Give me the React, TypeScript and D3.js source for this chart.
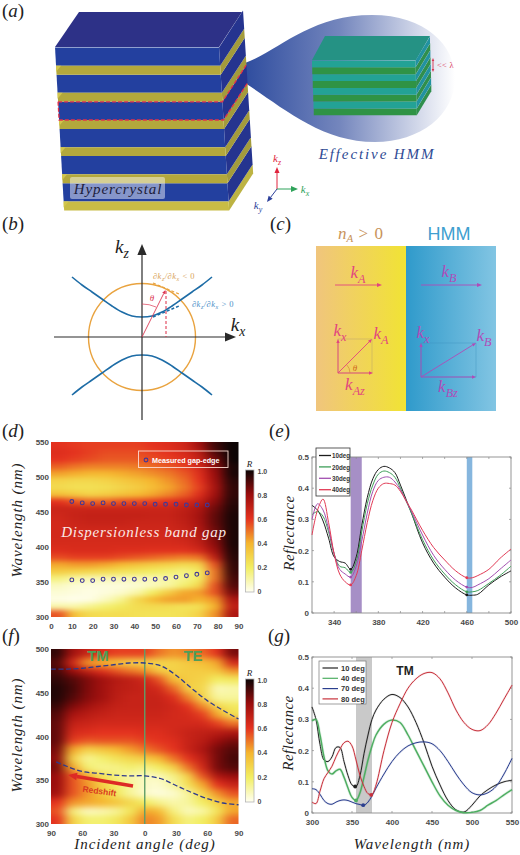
import { useEffect, useRef } from "react";
import * as d3 from "d3";

// (d) R map, rows from long to short wavelength
const dWave = [545,535,525,515,505,495,485,475,465,455,445,435,425,415,405,395,385,375,365,355,345,335,325,315,305];
const dAngle = [4,11,19,26,34,41,49,56,64,71,79,86];
const dMap = [
  [.6,.59,.58,.58,.58,.58,.6,.62,.66,.78,.93,1],
  [.62,.6,.58,.56,.56,.56,.58,.6,.64,.72,.9,1],
  [.6,.58,.56,.54,.54,.54,.56,.58,.61,.68,.85,1],
  [.53,.5,.48,.48,.48,.49,.51,.54,.58,.65,.82,.98],
  [.43,.41,.39,.39,.41,.43,.46,.49,.54,.62,.8,.98],
  [.3,.28,.28,.3,.33,.36,.4,.45,.51,.6,.78,.96],
  [.27,.25,.25,.26,.29,.32,.37,.42,.49,.58,.76,.95],
  [.36,.33,.3,.32,.35,.38,.42,.47,.53,.62,.78,.95],
  [.6,.55,.52,.52,.55,.56,.58,.6,.64,.69,.82,.96],
  [.67,.67,.67,.67,.67,.67,.67,.67,.7,.75,.86,.97],
  [.66,.68,.69,.69,.69,.69,.68,.68,.71,.77,.88,.98],
  [.65,.67,.68,.68,.68,.67,.67,.67,.7,.76,.88,.98],
  [.65,.66,.66,.66,.66,.66,.66,.66,.68,.74,.86,.98],
  [.65,.65,.65,.65,.65,.65,.65,.65,.67,.72,.84,.98],
  [.64,.64,.64,.64,.64,.64,.64,.64,.65,.7,.82,.98],
  [.62,.63,.63,.63,.62,.62,.61,.61,.61,.65,.78,.97],
  [.56,.58,.58,.58,.56,.54,.52,.5,.48,.5,.7,.96],
  [.42,.44,.44,.42,.38,.35,.32,.3,.27,.29,.55,.95],
  [.32,.3,.28,.26,.24,.22,.2,.18,.16,.2,.5,.94],
  [.16,.11,.09,.09,.09,.09,.09,.11,.14,.2,.5,.92],
  [.07,.04,.03,.03,.03,.04,.07,.11,.18,.28,.55,.9],
  [.04,.03,.02,.03,.05,.1,.2,.32,.42,.44,.55,.85],
  [.02,.01,.02,.07,.14,.28,.38,.43,.44,.4,.45,.75],
  [.1,.1,.14,.18,.22,.26,.27,.26,.24,.25,.4,.7],
  [.55,.35,.27,.26,.26,.25,.24,.24,.25,.3,.45,.75],
];
const gapAngle = [10,15,20,25,30,35,40,45,50,55,60,65,70,75];
const gapUpper = [465,463,462,463,462,462,462,462,461,461,461,460,460,460];
const gapLower = [353,352,352,354,354,354,354,354,354,355,357,359,361,363];

// (e) reflectance
const eWave = [320,325,330,335,340,345,350,355,360,365,370,375,380,385,390,395,400,405,410,420,430,440,450,460,465,470,480,490,500];
const e10 = [.345,.33,.295,.24,.18,.165,.16,.14,.18,.28,.37,.43,.46,.47,.465,.45,.41,.365,.32,.225,.16,.115,.08,.058,.057,.06,.09,.115,.135];
const e20 = [.315,.325,.31,.26,.19,.15,.145,.13,.165,.26,.35,.41,.445,.455,.45,.435,.4,.36,.32,.235,.17,.125,.09,.068,.068,.072,.095,.12,.15];
const e30 = [.3,.35,.33,.27,.19,.14,.125,.115,.15,.23,.32,.39,.425,.435,.435,.42,.395,.36,.325,.25,.185,.14,.105,.083,.082,.09,.11,.14,.17];
const e40 = [.25,.33,.365,.29,.19,.125,.1,.09,.12,.2,.29,.36,.4,.415,.415,.41,.39,.36,.33,.265,.21,.17,.135,.113,.113,.12,.14,.175,.205];
const eNames = ["10deg","20deg","30deg","40deg"];
const eColors = ["#1c1c1c","#3f9f5a","#a24fb0","#e23a55"];

// (f) R map, TM side then TE side
const fWave = [495,485,475,465,455,445,435,425,415,405,395,385,375,365,355,345,335,325,315,305];
const fAngle = [-83,-69,-55,-42,-28,-14,0,14,28,42,55,69,83];
const fMap = [
  [.95,.78,.68,.62,.58,.58,.58,.5,.45,.48,.52,.6,.85],
  [.9,.65,.45,.4,.35,.3,.3,.28,.3,.33,.36,.42,.65],
  [.92,.8,.7,.62,.55,.5,.45,.32,.3,.32,.32,.34,.45],
  [.95,.9,.84,.78,.73,.7,.66,.55,.36,.32,.3,.2,.22],
  [.97,.92,.84,.78,.72,.7,.68,.65,.52,.3,.28,.08,.1],
  [.97,.9,.83,.78,.71,.68,.68,.68,.62,.48,.28,.12,.12],
  [.94,.84,.78,.73,.69,.68,.68,.68,.66,.6,.46,.28,.22],
  [.9,.76,.72,.69,.67,.67,.67,.67,.65,.64,.58,.42,.25],
  [.88,.69,.67,.65,.65,.65,.65,.65,.65,.65,.65,.58,.5],
  [.88,.64,.62,.6,.6,.6,.62,.62,.65,.68,.7,.72,.75],
  [.88,.58,.54,.55,.55,.55,.58,.6,.62,.68,.72,.8,.85],
  [.85,.42,.3,.34,.38,.44,.5,.55,.6,.68,.75,.85,.9],
  [.82,.3,.13,.18,.24,.28,.32,.38,.5,.6,.7,.85,.92],
  [.85,.42,.18,.14,.15,.18,.15,.2,.3,.5,.65,.85,.9],
  [.8,.55,.42,.25,.16,.1,.07,.08,.15,.3,.55,.75,.8],
  [.8,.55,.45,.32,.2,.12,.06,.05,.12,.25,.42,.6,.68],
  [.78,.55,.45,.35,.22,.12,.05,.03,.05,.12,.28,.45,.55],
  [.6,.45,.42,.4,.35,.28,.2,.14,.1,.12,.2,.3,.42],
  [.55,.16,.06,.08,.12,.22,.42,.38,.16,.07,.1,.22,.42],
  [.6,.3,.18,.18,.22,.33,.48,.44,.26,.16,.2,.32,.52],
];
const edgeAngle = [-90,-75,-60,-45,-30,-15,0,15,30,45,60,75,90];
const edgeUpper = [477,477,478,480,482,484,484,481,470,455,441,430,420];
const edgeLowerAngle = [-85,-75,-60,-45,-30,-15,0,15,30,45,60,75,90];
const edgeLower = [371,366,360,358,356,355,355,352,344,336,329,324,322];
const fTicks = [-90,-60,-30,0,30,60,90];

// (g) reflectance
const gWave = [300,305,310,315,320,325,330,335,340,345,350,355,360,365,370,375,380,390,400,410,420,430,440,450,460,470,480,490,500,510,520,530,540,550];
const g10 = [.34,.3,.22,.17,.165,.18,.21,.21,.165,.12,.09,.085,.12,.19,.25,.3,.33,.365,.38,.37,.34,.29,.225,.15,.09,.04,.01,.003,.025,.055,.075,.09,.1,.105];
const g40 = [.295,.3,.25,.18,.135,.125,.135,.14,.115,.08,.05,.04,.065,.115,.17,.215,.25,.285,.298,.29,.25,.2,.15,.1,.055,.025,.008,.001,.002,.008,.025,.04,.058,.075];
const g70 = [.078,.075,.06,.04,.03,.028,.035,.04,.042,.04,.035,.03,.027,.025,.035,.055,.08,.125,.165,.195,.215,.225,.228,.222,.2,.165,.125,.09,.065,.058,.065,.085,.125,.175];
const g80 = [.035,.03,.07,.11,.13,.15,.18,.205,.225,.23,.215,.17,.12,.085,.062,.06,.09,.2,.29,.35,.4,.43,.447,.45,.43,.385,.33,.29,.268,.264,.283,.32,.365,.41];
const gNames = ["10 deg","40 deg","70 deg","80 deg"];
const gColors = ["#222222","#4fae62","#2b3f8f","#c8323c"];
const gDipWave = [354,355,364,374];
const gDipValue = [.085,.04,.025,.058];

// (b) iso-frequency contours, offsets from the axis origin
const hypX = [-70,-60,-50,-40,-30,-20,-10,0,10,20,30,40,50,60,70];
const hypUp = [60,52,45,38,31,25,21,20,21,25,31,38,45,52,60];
const hypDown = [58,50,43,36,29,23,19,18,19,23,29,36,43,50,58];

const rColors = ["#fffff2","#f2ee62","#f5b52e","#e4321f","#9a0d0d","#0c0505"];
const rStops = [0,.2,.4,.6,.8,1];
const rTicks = [0,.2,.4,.6,.8,1];

const serif = "'Liberation Serif', serif";
const sans = "'Liberation Sans', Arial, sans-serif";
const tickInk = "#4a4a4a";

type Sel = d3.Selection<any, any, any, any>;

const App = () => {
  const ref = useRef<SVGSVGElement>(null);

  useEffect(() => {
    if (!ref.current) return;
    const svg = d3.select(ref.current);
    svg.selectAll("*").remove();
    const defs = svg.append("defs");

    const color = d3.scaleLinear<string>().domain(rStops).range(rColors).clamp(true);

    const txt = (g: Sel, x: number, y: number, s: string, size: number, fill = "#222", opts: any = {}) =>
      g
        .append("text")
        .attr("x", x)
        .attr("y", y)
        .attr("font-family", opts.family ?? serif)
        .attr("font-style", opts.italic === false ? "normal" : "italic")
        .attr("font-weight", opts.weight ?? "normal")
        .attr("font-size", size)
        .attr("fill", fill)
        .attr("text-anchor", opts.anchor ?? "middle")
        .attr("letter-spacing", opts.spacing ?? 0)
        .attr("transform", opts.rotate ? `rotate(${opts.rotate},${x},${y})` : null)
        .text(s);

    // k with a subscript
    const kLabel = (g: Sel, x: number, y: number, sub: string, size: number, fill: string) => {
      const t = txt(g, x, y, "k", size, fill);
      t.append("tspan").attr("dy", size * 0.28).attr("font-size", size * 0.72).text(sub);
      return t;
    };

    const arrow = (g: Sel, x1: number, y1: number, x2: number, y2: number, stroke: string, w: number, head: number) => {
      const a = Math.atan2(y2 - y1, x2 - x1);
      const bx = x2 - head * Math.cos(a);
      const by = y2 - head * Math.sin(a);
      g.append("line").attr("x1", x1).attr("y1", y1).attr("x2", bx).attr("y2", by)
        .attr("stroke", stroke).attr("stroke-width", w);
      const hw = head * 0.42;
      g.append("path")
        .attr("d", `M${x2},${y2}L${bx - hw * Math.sin(a)},${by + hw * Math.cos(a)}L${bx + hw * Math.sin(a)},${by - hw * Math.cos(a)}Z`)
        .attr("fill", stroke);
    };

    const panelLabel = (x: number, y: number, s: string) => {
      const t = svg.append("text").attr("x", x).attr("y", y).attr("font-family", serif).attr("font-size", 19).attr("fill", "#222");
      t.append("tspan").text("(");
      t.append("tspan").attr("font-style", "italic").text(s);
      t.append("tspan").text(")");
    };
    panelLabel(2, 17, "a");
    panelLabel(2, 230, "b");
    panelLabel(270, 230, "c");
    panelLabel(2, 437, "d");
    panelLabel(269, 437, "e");
    panelLabel(2, 642, "f");
    panelLabel(268, 642, "g");

    // ---- (a) stack
    const a = svg.append("g");
    const lens = defs.append("linearGradient").attr("id", "lens");
    lens.append("stop").attr("offset", 0).attr("stop-color", "#2f4d9f");
    lens.append("stop").attr("offset", 0.45).attr("stop-color", "#7486bd");
    lens.append("stop").attr("offset", 1).attr("stop-color", "#ffffff");
    a.append("path")
      .attr("d", "M245,63C280,50 310,15 372,15C425,15 455,45 455,78C455,115 420,142 375,142C320,142 280,105 245,83Z")
      .attr("fill", "url(#lens)");

    const xl = d3.scaleLinear().domain([47, 208]).range([55, 64]);
    const xr = d3.scaleLinear().domain([47, 208]).range([219, 229]);
    const dx = 24, dy = -37;
    const poly = (g: Sel, pts: number[][], fill: string) =>
      g.append("path").attr("d", "M" + pts.map((p) => p.join(",")).join("L") + "Z").attr("fill", fill);
    // top face
    poly(a, [[55, 47], [79, 12], [242, 12], [219, 47]], "#2d3187");
    const periods = d3.range(6);
    [...periods].reverse().forEach((i) => {
      const y0 = 47.5 + i * 27.15;
      const y1 = y0 + 18.2;
      const y2 = y0 + 27.15;
      poly(a, [[xr(y1), y1], [xr(y2), y2], [xr(y2) + dx, y2 + dy], [xr(y1) + dx, y1 + dy]], i === 5 ? "#bdb343" : "#a39b3c");
      poly(a, [[xr(y0), y0], [xr(y1), y1], [xr(y1) + dx, y1 + dy], [xr(y0) + dx, y0 + dy]], "#25348f");
      poly(a, [[xl(y0), y0], [xr(y0), y0], [xr(y1), y1], [xl(y1), y1]], "#23409f");
      poly(a, [[xl(y1), y1], [xr(y1), y1], [xr(y2), y2], [xl(y2), y2]], i === 5 ? "#c8bc45" : "#b3a83c");
      poly(a, [[xl(y1), y1], [xl(y1) + 5, y1], [xl(y1), y1 + 6]], "#d2c64c");
    });
    // dashed slab
    const sy0 = 47.5 + 2 * 27.15, sy1 = sy0 + 18.2;
    a.append("path")
      .attr("d", `M${xl(sy0)},${sy0}L${xr(sy0)},${sy0}L${xr(sy0) + dx},${sy0 + dy}M${xl(sy0)},${sy0}L${xl(sy1)},${sy1}L${xr(sy1)},${sy1}L${xr(sy1) + dx},${sy1 + dy}`)
      .attr("fill", "none").attr("stroke", "#e3304a").attr("stroke-width", 1.3).attr("stroke-dasharray", "4 2");
    a.append("rect").attr("x", 70).attr("y", 177).attr("width", 95).attr("height", 22).attr("rx", 2).attr("fill", "#fff").attr("opacity", 0.45);
    txt(a, 118, 194, "Hypercrystal", 15, "#1d1d3a", { spacing: 0.9 });

    // ---- effective HMM box
    const hm = svg.append("g");
    poly(hm, [[312, 60], [325, 36], [430, 36], [416, 60]], "#259284");
    d3.range(8).reverse().forEach((i) => {
      const y0 = 60.5 + i * 6.85, y1 = y0 + 6.85;
      const fx = 312 + (i / 8) * 2, rx = 415.5 + (i / 8) * 1.5;
      poly(hm, [[rx, y0], [rx + 14.5, y0 - 24], [rx + 14.5, y1 - 24], [rx, y1]], i % 2 ? "#2f8f4c" : "#2192a0");
      poly(hm, [[fx, y0], [rx, y0], [rx, y1], [fx, y1]], i % 2 ? "#2f9345" : "#23a295");
    });
    arrow(hm, 433, 66, 433, 58, "#d8334f", 0.9, 3);
    arrow(hm, 433, 66, 433, 72, "#d8334f", 0.9, 3);
    txt(hm, 437, 68, "<< λ", 8.5, "#dc3f5c", { anchor: "start", italic: false, spacing: 0.3 });
    txt(hm, 377, 159, "Effective HMM", 15, "#2e4a94", { spacing: 1.9 });

    // axes triad
    const tri = svg.append("g");
    arrow(tri, 277, 189, 277, 167, "#e0233c", 1, 6);
    arrow(tri, 277, 189, 298, 189, "#2fa35a", 1, 7);
    arrow(tri, 277, 189, 267, 202, "#2c3f9a", 1, 6);
    kLabel(tri, 277, 162, "z", 11, "#e0233c");
    kLabel(tri, 305, 193, "x", 11, "#2fa35a");
    kLabel(tri, 258, 209, "y", 11, "#2c3f9a");

    // ---- (b)
    const b = svg.append("g");
    const ox = 142, oy = 337;
    b.append("circle").attr("cx", ox).attr("cy", oy).attr("r", 53.5).attr("fill", "none").attr("stroke", "#e9a33f").attr("stroke-width", 1.4);
    const hypLine = d3.line<number>().x((d) => ox + d).curve(d3.curveCatmullRom);
    b.append("path").attr("d", hypLine.y((_, i) => oy - hypUp[i])(hypX)).attr("fill", "none").attr("stroke", "#1d6ca6").attr("stroke-width", 1.6);
    b.append("path").attr("d", hypLine.y((_, i) => oy + hypDown[i])(hypX)).attr("fill", "none").attr("stroke", "#1d6ca6").attr("stroke-width", 1.6);
    arrow(b, 54, oy, 236, oy, "#2a2a2a", 1.2, 11);
    arrow(b, ox, 420, ox, 244, "#2a2a2a", 1.2, 11);
    arrow(b, ox, oy, 165.5, 290, "#dc3a55", 0.9, 4);
    b.append("line").attr("x1", 166).attr("y1", 291).attr("x2", 166).attr("y2", oy).attr("stroke", "#dc2a45").attr("stroke-width", 1).attr("stroke-dasharray", "3 2");
    b.append("path").attr("d", `M${ox},${oy - 33}A33,33 0 0 1 ${ox + 14},${oy - 30}`).attr("fill", "none").attr("stroke", "#dc3a55").attr("stroke-width", 0.7);
    b.append("line").attr("x1", 153).attr("y1", 283).attr("x2", 179).attr("y2", 294).attr("stroke", "#e9a33f").attr("stroke-width", 1.2).attr("stroke-dasharray", "3 2");
    b.append("line").attr("x1", 153).attr("y1", 317).attr("x2", 179).attr("y2", 306).attr("stroke", "#1d6ca6").attr("stroke-width", 1.5).attr("stroke-dasharray", "3 2");
    txt(b, 152, 301, "θ", 9, "#dc3a55");
    const slopeLabel = (x: number, y: number, fill: string, rest: string) => {
      const t = txt(b, x, y, "∂k", 8.5, fill, { spacing: 0.5 });
      t.append("tspan").attr("dy", 1.5).attr("font-size", 6).text("z");
      t.append("tspan").attr("dy", -1.5).text("/∂k");
      t.append("tspan").attr("dy", 1.5).attr("font-size", 6).text("x");
      t.append("tspan").attr("dy", -1.5).attr("font-style", "normal").text(rest);
    };
    slopeLabel(174, 279, "#d9a45a", " < 0");
    slopeLabel(213, 307, "#4a8fc8", " > 0");
    kLabel(b, 122, 253, "z", 19, "#222");
    kLabel(b, 238, 331, "x", 19, "#222");

    // ---- (c)
    const c = svg.append("g");
    const gradL = defs.append("linearGradient").attr("id", "cLeft");
    gradL.append("stop").attr("offset", 0).attr("stop-color", "#f0c57d");
    gradL.append("stop").attr("offset", 1).attr("stop-color", "#f1e334");
    const gradR = defs.append("linearGradient").attr("id", "cRight");
    gradR.append("stop").attr("offset", 0).attr("stop-color", "#2f9acb");
    gradR.append("stop").attr("offset", 1).attr("stop-color", "#82c5e3");
    c.append("rect").attr("x", 316).attr("y", 246).attr("width", 90).attr("height", 165).attr("fill", "url(#cLeft)");
    c.append("rect").attr("x", 406).attr("y", 246).attr("width", 90).attr("height", 165).attr("fill", "url(#cRight)");
    const nA = txt(c, 361, 239, "n", 17, "#c8935a");
    nA.append("tspan").attr("dy", 3).attr("font-size", 11).text("A");
    nA.append("tspan").attr("dy", -3).attr("font-style", "normal").attr("letter-spacing", 1).text(" > 0");
    txt(c, 449, 240, "HMM", 18, "#3f9fd0", { italic: false, family: sans });
    const pink = "#e2457f", violet = "#b04bb8";
    arrow(c, 335, 285, 382, 285, pink, 0.9, 5);
    arrow(c, 421, 285, 482, 285, violet, 0.9, 5);
    kLabel(c, 358, 278, "A", 17, pink);
    kLabel(c, 449, 277, "B", 17, violet);
    c.append("rect").attr("x", 338).attr("y", 339).attr("width", 34).attr("height", 34).attr("fill", "none").attr("stroke", "#b09a70").attr("stroke-width", 0.4);
    c.append("rect").attr("x", 421).attr("y", 343).attr("width", 55).attr("height", 34).attr("fill", "none").attr("stroke", "#3d8fbd").attr("stroke-width", 0.4);
    arrow(c, 338, 373, 338, 339, pink, 0.9, 4);
    arrow(c, 338, 373, 373, 373, pink, 0.9, 4);
    arrow(c, 338, 373, 372, 339, pink, 0.9, 4);
    arrow(c, 421, 377, 421, 343, violet, 0.9, 4);
    arrow(c, 421, 377, 476, 377, violet, 0.9, 4);
    arrow(c, 421, 377, 476, 343, violet, 0.9, 4);
    c.append("path").attr("d", "M350,373A12,12 0 0 0 346.5,364.5").attr("fill", "none").attr("stroke", "#d68a3a").attr("stroke-width", 0.7);
    txt(c, 355, 371, "θ", 9, "#d06a20");
    kLabel(c, 340, 336, "x", 17, pink);
    kLabel(c, 381, 339, "A", 17, pink);
    kLabel(c, 355, 390, "Az", 17, pink);
    kLabel(c, 423, 338, "x", 17, violet);
    kLabel(c, 484, 341, "B", 17, violet);
    kLabel(c, 448, 392, "Bz", 17, violet);

    // ---- heat maps
    const heat = (id: string, xs: d3.ScaleBand<number>, ys: d3.ScaleBand<number>, matrix: number[][], box: number[], blur: string) => {
      const [x0, y0, x1, y1] = box;
      const clip = defs.append("clipPath").attr("id", "clip" + id);
      clip.append("rect").attr("x", x0).attr("y", y0).attr("width", x1 - x0).attr("height", y1 - y0);
      const filter = defs.append("filter").attr("id", "blur" + id).attr("filterUnits", "userSpaceOnUse")
        .attr("x", x0 - 40).attr("y", y0 - 40).attr("width", x1 - x0 + 80).attr("height", y1 - y0 + 80)
        .attr("color-interpolation-filters", "sRGB");
      filter.append("feGaussianBlur").attr("stdDeviation", blur);
      const outer = svg.append("g").attr("clip-path", `url(#clip${id})`);
      const inner = outer.append("g").attr("filter", `url(#blur${id})`).attr("shape-rendering", "crispEdges");
      const nc = xs.domain().length, nr = ys.domain().length;
      ys.domain().forEach((w, r) => {
        xs.domain().forEach((ang, k) => {
          // outermost cells run on past the frame so the blur keeps their colour at the edge
          const left = k === 0 ? 30 : 0;
          const right = k === nc - 1 ? 30 : 0;
          const top = r === 0 ? 30 : 0;
          const bot = r === nr - 1 ? 30 : 0;
          inner.append("rect")
            .attr("x", (xs(ang) as number) - left)
            .attr("y", (ys(w) as number) - top)
            .attr("width", xs.bandwidth() + left + right + 0.5)
            .attr("height", ys.bandwidth() + top + bot + 0.5)
            .attr("fill", color(matrix[r][k]));
        });
      });
    };

    const colorBar = (id: string, x: number, y0: number, y1: number) => {
      const grad = defs.append("linearGradient").attr("id", id).attr("x1", 0).attr("x2", 0).attr("y1", 1).attr("y2", 0);
      rStops.forEach((s) => grad.append("stop").attr("offset", s).attr("stop-color", color(s)));
      svg.append("rect").attr("x", x).attr("y", y0).attr("width", 8.5).attr("height", y1 - y0).attr("fill", `url(#${id})`).attr("stroke", "#b5b5b5").attr("stroke-width", 0.8);
      const scale = d3.scaleLinear().domain([0, 1]).range([y1 - 1, y0 + 1]);
      const ax = svg.append("g").attr("transform", `translate(${x + 10},0)`)
        .call(d3.axisRight(scale).tickValues(rTicks).tickSize(0).tickPadding(2).tickFormat((d) => (d === 0 ? "0" : d3.format(".1f")(d as number))));
      ax.select(".domain").remove();
      ax.selectAll("text").attr("font-family", sans).attr("font-size", 7).attr("font-weight", "bold").attr("fill", tickInk);
      txt(svg, x + 4, y0 - 3, "R", 9, "#222");
    };

    const styleTicks = (ax: Sel, size = 8) => {
      ax.select(".domain").remove();
      ax.selectAll("text").attr("font-family", sans).attr("font-size", size).attr("font-weight", "bold").attr("fill", tickInk);
    };

    // ---- (d)
    const dBox = [51, 442, 238.5, 617];
    const dx1 = d3.scaleBand<number>().domain(dAngle).range([dBox[0], dBox[2]]);
    const dy1 = d3.scaleBand<number>().domain(dWave).range([dBox[1], dBox[3]]);
    heat("d", dx1, dy1, dMap, dBox, "6 2.6");
    const dX = d3.scaleLinear().domain([0, 90]).range([dBox[0], dBox[2]]);
    const dY = d3.scaleLinear().domain([300, 550]).range([dBox[3], dBox[1]]);
    styleTicks(svg.append("g").attr("transform", `translate(0,${dBox[3]})`)
      .call(d3.axisBottom(dX).tickValues(d3.range(0, 91, 10)).tickSize(0).tickPadding(6)));
    styleTicks(svg.append("g").attr("transform", `translate(${dBox[0]},0)`)
      .call(d3.axisLeft(dY).tickValues(d3.range(300, 551, 50)).tickSize(0).tickPadding(2)));
    [gapUpper, gapLower].forEach((series) => {
      svg.append("g").selectAll("circle").data(series).join("circle")
        .attr("cx", (_, i) => dX(gapAngle[i]))
        .attr("cy", (d) => dY(d))
        .attr("r", 1.9).attr("fill", "none").attr("stroke", "#40389a").attr("stroke-width", 1.1);
    });
    txt(svg, 144, 537, "Dispersionless band gap", 15, "#fbe9e6", { spacing: 0.75 });
    svg.append("rect").attr("x", 138.5).attr("y", 451).attr("width", 89.5).attr("height", 16.5).attr("fill", "none").attr("stroke", "#fbd9cf").attr("stroke-width", 0.9);
    svg.append("circle").attr("cx", 146).attr("cy", 460).attr("r", 1.9).attr("fill", "none").attr("stroke", "#40389a").attr("stroke-width", 1.1);
    txt(svg, 152, 463, "Measured gap-edge", 7.2, "#fff", { italic: false, family: sans, weight: "bold", anchor: "start" });
    colorBar("barD", 245.5, 470, 592);
    txt(svg, 22, 520, "Wavelength (nm)", 15, "#222", { rotate: -90, spacing: 0.9 });

    // ---- line panels
    const lineFrame = (x: d3.ScaleLinear<number, number>, y: d3.ScaleLinear<number, number>, xMajor: number[], xMinor: number[], yMajor: number[]) => {
      const [x0, x1] = x.range();
      const [y1, y0] = y.range();
      const g = svg.append("g");
      const bottom = g.append("g").attr("transform", `translate(0,${y1})`)
        .call(d3.axisBottom(x).tickValues(xMajor).tickSize(0).tickPadding(6));
      styleTicks(bottom);
      const left = g.append("g").attr("transform", `translate(${x0},0)`)
        .call(d3.axisLeft(y).tickValues(yMajor).tickSize(0).tickPadding(3).tickFormat((d) => (d === 0 ? "0" : d3.format(".1f")(d as number))));
      styleTicks(left);
      const ink = "#8a8a8a";
      xMinor.forEach((v) => {
        g.append("line").attr("x1", x(v)).attr("x2", x(v)).attr("y1", y1).attr("y2", y1 - 2).attr("stroke", ink).attr("stroke-width", 0.7);
        g.append("line").attr("x1", x(v)).attr("x2", x(v)).attr("y1", y0).attr("y2", y0 + 2).attr("stroke", ink).attr("stroke-width", 0.7);
      });
      yMajor.forEach((v) => {
        g.append("line").attr("x1", x0).attr("x2", x0 + 2).attr("y1", y(v)).attr("y2", y(v)).attr("stroke", ink).attr("stroke-width", 0.7);
        g.append("line").attr("x1", x1).attr("x2", x1 - 2).attr("y1", y(v)).attr("y2", y(v)).attr("stroke", ink).attr("stroke-width", 0.7);
      });
      g.append("rect").attr("x", x0).attr("y", y0).attr("width", x1 - x0).attr("height", y1 - y0).attr("fill", "none").attr("stroke", ink).attr("stroke-width", 0.9);
    };

    // ---- (e)
    const eX = d3.scaleLinear().domain([320, 500]).range([312, 511]);
    const eY = d3.scaleLinear().domain([0, 0.5]).range([613, 457]);
    const band = (x: d3.ScaleLinear<number, number>, y: d3.ScaleLinear<number, number>, a0: number, a1: number, fill: string) =>
      svg.append("rect").attr("x", x(a0)).attr("width", x(a1) - x(a0)).attr("y", y(0.5)).attr("height", y(0) - y(0.5)).attr("fill", fill);
    band(eX, eY, 355, 365, "#a68fc6");
    band(eX, eY, 460, 465, "#86b6de");
    lineFrame(eX, eY, [340, 380, 420, 460, 500], d3.range(320, 501, 20), [0, .1, .2, .3, .4, .5]);
    const eLine = d3.line<number>().x((_, i) => eX(eWave[i])).y((d) => eY(d)).curve(d3.curveCatmullRom);
    [e10, e20, e30, e40].forEach((s, k) => {
      svg.append("path").attr("d", eLine(s)).attr("fill", "none").attr("stroke", eColors[k]).attr("stroke-width", 1);
      [7, 23].forEach((i) => {
        svg.append("circle").attr("cx", eX(eWave[i])).attr("cy", eY(s[i])).attr("r", 1.4).attr("fill", eColors[k]);
      });
    });
    const eLeg = svg.append("g");
    eLeg.append("rect").attr("x", 316).attr("y", 448).attr("width", 34).attr("height", 48).attr("fill", "#fff").attr("stroke", "#333").attr("stroke-width", 0.8);
    eNames.forEach((n, i) => {
      const y = 455.5 + i * 11.4;
      eLeg.append("line").attr("x1", 319).attr("x2", 331).attr("y1", y).attr("y2", y).attr("stroke", eColors[i]).attr("stroke-width", 1.3);
      txt(eLeg, 332, y + 2.6, n, 7.5, "#333", { italic: false, family: sans, weight: "bold", anchor: "start" })
        .attr("textLength", 18).attr("lengthAdjust", "spacingAndGlyphs");
    });
    txt(svg, 294, 533, "Reflectance", 15, "#222", { rotate: -90, spacing: 0.5 });

    // ---- (f)
    const fBox = [51, 649, 238.5, 824];
    const fx1 = d3.scaleBand<number>().domain(fAngle).range([fBox[0], fBox[2]]);
    const fy1 = d3.scaleBand<number>().domain(fWave).range([fBox[1], fBox[3]]);
    heat("f", fx1, fy1, fMap, fBox, "6 3");
    const fX = d3.scaleLinear().domain([-90, 90]).range([fBox[0], fBox[2]]);
    const fY = d3.scaleLinear().domain([300, 500]).range([fBox[3], fBox[1]]);
    styleTicks(svg.append("g").attr("transform", `translate(0,${fBox[3]})`)
      .call(d3.axisBottom(fX).tickValues(fTicks).tickSize(0).tickPadding(6).tickFormat((d) => String(Math.abs(d as number)))));
    styleTicks(svg.append("g").attr("transform", `translate(${fBox[0]},0)`)
      .call(d3.axisLeft(fY).tickValues(d3.range(300, 501, 50)).tickSize(0).tickPadding(2)));
    svg.append("line").attr("x1", fX(0)).attr("x2", fX(0)).attr("y1", fBox[1]).attr("y2", fBox[3]).attr("stroke", "#5f9e68").attr("stroke-width", 1.4);
    const dash = d3.line<number>().curve(d3.curveCatmullRom);
    svg.append("path").attr("d", dash.x((_, i) => fX(edgeAngle[i])).y((d) => fY(d))(edgeUpper))
      .attr("fill", "none").attr("stroke", "#2f3a8c").attr("stroke-width", 1.3).attr("stroke-dasharray", "5 2.5");
    svg.append("path").attr("d", dash.x((_, i) => fX(edgeLowerAngle[i])).y((d) => fY(d))(edgeLower))
      .attr("fill", "none").attr("stroke", "#2f3a8c").attr("stroke-width", 1.3).attr("stroke-dasharray", "5 2.5");
    txt(svg, 98, 661, "TM", 15, "#4f9e58", { italic: false, family: sans, weight: "bold" });
    txt(svg, 193, 661, "TE", 15, "#4f9e58", { italic: false, family: sans, weight: "bold" });
    arrow(svg, 133, 786, 68, 775, "#dd2a25", 3.4, 9);
    txt(svg, 99, 794, "Redshift", 8.5, "#d93a20", { italic: false, family: sans, weight: "bold", rotate: 8 });
    colorBar("barF", 245.5, 679, 802);
    txt(svg, 22, 735, "Wavelength (nm)", 15, "#222", { rotate: -90, spacing: 0.9 });
    txt(svg, 145, 849, "Incident angle (deg)", 15, "#222", { spacing: 1 });

    // ---- (g)
    const gX = d3.scaleLinear().domain([300, 550]).range([312, 512]);
    const gY = d3.scaleLinear().domain([0, 0.5]).range([813, 657]);
    band(gX, gY, 355, 375, "#c9c9c9");
    lineFrame(gX, gY, d3.range(300, 551, 50), d3.range(300, 551, 50), [0, .1, .2, .3, .4, .5]);
    const gLine = d3.line<number>().x((_, i) => gX(gWave[i])).y((d) => gY(d)).curve(d3.curveCatmullRom);
    [g10, g40, g70, g80].forEach((s, k) => {
      svg.append("path").attr("d", gLine(s)).attr("fill", "none").attr("stroke", gColors[k]).attr("stroke-opacity", 0.15).attr("stroke-width", k === 1 ? 3 : 2);
      svg.append("path").attr("d", gLine(s)).attr("fill", "none").attr("stroke", gColors[k]).attr("stroke-width", k === 1 ? 1.5 : 1);
      svg.append("circle").attr("cx", gX(gDipWave[k])).attr("cy", gY(gDipValue[k])).attr("r", 1.9).attr("fill", gColors[k]);
    });
    const gLeg = svg.append("g");
    gLeg.append("rect").attr("x", 319).attr("y", 661).attr("width", 47).attr("height", 43).attr("fill", "#fff").attr("stroke", "#777").attr("stroke-width", 0.7);
    gNames.forEach((n, i) => {
      const y = 668 + i * 10.3;
      gLeg.append("line").attr("x1", 322.5).attr("x2", 338).attr("y1", y).attr("y2", y).attr("stroke", gColors[i]).attr("stroke-width", 1.2);
      txt(gLeg, 341, y + 2.6, n, 7.5, "#333", { italic: false, family: sans, weight: "bold", anchor: "start" });
    });
    txt(svg, 405, 675, "TM", 12, "#222", { italic: false, family: sans, weight: "bold" });
    txt(svg, 293, 733, "Reflectance", 15, "#222", { rotate: -90, spacing: 0.5 });
    txt(svg, 412, 849, "Wavelength (nm)", 15, "#222", { spacing: 1 });
  }, []);

  return (
    <svg
      ref={ref}
      width={520}
      height={855}
      viewBox="0 0 520 855"
      style={{ position: "absolute", left: 0, top: 0, display: "block", background: "#fff" }}
    />
  );
};

export default App;
